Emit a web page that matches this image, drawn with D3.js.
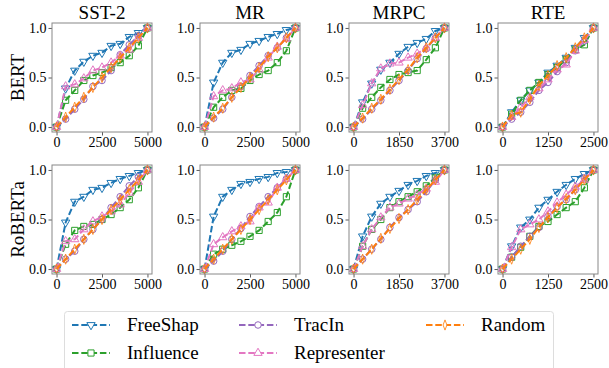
<!DOCTYPE html>
<html>
<head>
<meta charset="utf-8">
<script src="https://cdn.jsdelivr.net/npm/d3@7"></script>
<style>
  body { margin: 0; background: #fff; }
</style>
</head>
<body>
<div id="chart"></div>
<script>
// panel order: SST-2, MR, MRPC, RTE (BERT) then same for RoBERTa
const datasets = ["SST-2", "MR", "MRPC", "RTE"];
const models = ["BERT", "RoBERTa"];
const xMax = [5000, 5000, 3700, 2500];
const xTicks = [[0, 2500, 5000], [0, 2500, 5000], [0, 1850, 3700], [0, 1250, 2500]];
const yTicks = [0, 0.5, 1.0];
const methods = ["FreeShap", "Influence", "TracIn", "Representer", "Random"];

const freeShap = [
  [0, 0.39, 0.57, 0.66, 0.72, 0.75, 0.82, 0.84, 0.91, 0.95, 1.0],
  [0, 0.45, 0.65, 0.75, 0.78, 0.84, 0.87, 0.91, 0.94, 0.98, 1.0],
  [0, 0.25, 0.44, 0.58, 0.65, 0.74, 0.81, 0.85, 0.89, 0.97, 1.0],
  [0, 0.15, 0.27, 0.37, 0.45, 0.55, 0.62, 0.70, 0.80, 0.90, 1.0],
  [0, 0.47, 0.68, 0.73, 0.80, 0.82, 0.87, 0.91, 0.94, 0.97, 1.0],
  [0, 0.53, 0.73, 0.80, 0.86, 0.88, 0.91, 0.93, 0.97, 0.98, 1.0],
  [0, 0.33, 0.53, 0.66, 0.73, 0.79, 0.85, 0.89, 0.94, 0.97, 1.0],
  [0, 0.23, 0.42, 0.50, 0.62, 0.70, 0.78, 0.85, 0.91, 0.96, 1.0]
];
const influence = [
  [0, 0.27, 0.37, 0.47, 0.52, 0.55, 0.60, 0.65, 0.72, 0.82, 1.0],
  [0, 0.20, 0.30, 0.37, 0.39, 0.47, 0.53, 0.57, 0.65, 0.77, 1.0],
  [0, 0.19, 0.30, 0.40, 0.48, 0.53, 0.55, 0.57, 0.68, 0.80, 1.0],
  [0, 0.13, 0.27, 0.37, 0.45, 0.53, 0.60, 0.68, 0.78, 0.83, 1.0],
  [0, 0.25, 0.39, 0.43, 0.45, 0.50, 0.55, 0.62, 0.70, 0.82, 1.0],
  [0, 0.15, 0.20, 0.24, 0.28, 0.33, 0.39, 0.48, 0.57, 0.73, 1.0],
  [0, 0.23, 0.40, 0.50, 0.62, 0.68, 0.73, 0.78, 0.84, 0.92, 1.0],
  [0, 0.12, 0.22, 0.33, 0.43, 0.48, 0.55, 0.62, 0.68, 0.82, 1.0]
];
const tracIn = [
  [0, 0.08, 0.18, 0.28, 0.41, 0.47, 0.57, 0.73, 0.83, 0.92, 1.0],
  [0, 0.09, 0.18, 0.30, 0.41, 0.52, 0.62, 0.72, 0.80, 0.90, 1.0],
  [0, 0.08, 0.18, 0.27, 0.37, 0.47, 0.57, 0.69, 0.79, 0.90, 1.0],
  [0, 0.08, 0.15, 0.25, 0.37, 0.45, 0.56, 0.65, 0.77, 0.87, 1.0],
  [0, 0.10, 0.18, 0.30, 0.40, 0.50, 0.62, 0.73, 0.84, 0.93, 1.0],
  [0, 0.08, 0.18, 0.30, 0.41, 0.53, 0.63, 0.73, 0.82, 0.91, 1.0],
  [0, 0.10, 0.20, 0.30, 0.42, 0.52, 0.60, 0.68, 0.78, 0.90, 1.0],
  [0, 0.12, 0.23, 0.33, 0.42, 0.53, 0.63, 0.70, 0.80, 0.92, 1.0]
];
const representer = [
  [0, 0.41, 0.43, 0.49, 0.57, 0.60, 0.65, 0.72, 0.78, 0.90, 1.0],
  [0, 0.31, 0.37, 0.39, 0.45, 0.48, 0.58, 0.70, 0.81, 0.89, 1.0],
  [0, 0.22, 0.44, 0.59, 0.64, 0.65, 0.70, 0.74, 0.80, 0.90, 1.0],
  [0, 0.10, 0.20, 0.30, 0.39, 0.48, 0.58, 0.63, 0.77, 0.88, 1.0],
  [0, 0.28, 0.30, 0.40, 0.48, 0.53, 0.58, 0.65, 0.77, 0.88, 1.0],
  [0, 0.25, 0.32, 0.38, 0.43, 0.48, 0.62, 0.67, 0.82, 0.91, 1.0],
  [0, 0.23, 0.40, 0.52, 0.62, 0.66, 0.71, 0.75, 0.81, 0.88, 1.0],
  [0, 0.22, 0.40, 0.45, 0.50, 0.58, 0.67, 0.75, 0.83, 0.90, 1.0]
];
const random = [
  [0, 0.10, 0.20, 0.30, 0.40, 0.50, 0.60, 0.70, 0.80, 0.90, 1.0],
  [0, 0.10, 0.19, 0.30, 0.40, 0.50, 0.60, 0.71, 0.80, 0.90, 1.0],
  [0, 0.09, 0.19, 0.28, 0.38, 0.48, 0.58, 0.70, 0.80, 0.90, 1.0],
  [0, 0.12, 0.15, 0.28, 0.42, 0.52, 0.62, 0.70, 0.80, 0.90, 1.0],
  [0, 0.10, 0.20, 0.30, 0.40, 0.50, 0.60, 0.70, 0.80, 0.90, 1.0],
  [0, 0.10, 0.20, 0.30, 0.40, 0.50, 0.60, 0.70, 0.80, 0.90, 1.0],
  [0, 0.10, 0.20, 0.31, 0.41, 0.51, 0.60, 0.70, 0.80, 0.90, 1.0],
  [0, 0.10, 0.20, 0.30, 0.42, 0.52, 0.62, 0.71, 0.80, 0.90, 1.0]
];
const seriesValues = [freeShap, influence, tracIn, representer, random];

const colors = ["#1f77b4", "#2ca02c", "#9467bd", "#e377c2", "#ff7f0e"];
const serif = "'Liberation Serif', 'Times New Roman', serif";

// marker shapes: down-triangle, square, circle, up-triangle, thin diamond
function markerPath(i) {
  if (i == 1) return d3.symbol(d3.symbolSquare, 38)();
  if (i == 2) return d3.symbol(d3.symbolCircle, 34)();
  if (i == 4) return d3.symbol(d3.symbolDiamond, 30)();
  return d3.symbol(d3.symbolTriangle, 30)();
}
function markerTransform(i) {
  if (i == 0) return "rotate(180)";
  if (i == 4) return "scale(0.65,1)";
  return "";
}

const W = 609, H = 368;
const svg = d3.select("#chart").append("svg")
  .attr("width", W).attr("height", H);

const lefts = [52, 200, 349, 498];
const tops = [23, 165];
const pw = 100, ph = 109;

for (let r = 0; r < 2; r++) {
  for (let c = 0; c < 4; c++) {
    const p = r * 4 + c;
    const x0 = lefts[c], y0 = tops[r];
    const xScale = d3.scaleLinear()
      .domain([-0.05 * xMax[c], 1.05 * xMax[c]])
      .range([x0, x0 + pw]);
    const yScale = d3.scaleLinear()
      .domain([-0.05, 1.05])
      .range([y0 + ph, y0]);

    const g = svg.append("g");

    const xAxis = d3.axisBottom(xScale).tickValues(xTicks[c]).tickSize(3.5).tickPadding(2).tickFormat(d3.format("d"));
    const yAxis = d3.axisLeft(yScale).tickValues(yTicks).tickSize(3.5).tickPadding(2).tickFormat(d3.format(".1f"));

    const gx = g.append("g")
      .attr("transform", `translate(0,${y0 + ph})`)
      .call(xAxis);
    const gy = g.append("g")
      .attr("transform", `translate(${x0},0)`)
      .call(yAxis);
    [gx, gy].forEach(a => {
      a.attr("font-family", null).attr("font-size", null);
      a.select(".domain").remove();
      a.selectAll("line").attr("stroke", "#333").attr("stroke-width", 0.8);
      a.selectAll("text")
        .style("font-family", serif)
        .style("font-size", "14px")
        .attr("fill", "#000");
    });

    const plot = g.append("g");
    const xs = d3.range(11).map(k => k * xMax[c] / 10);

    seriesValues.forEach((vals, m) => {
      const pts = vals[p].map((v, k) => [xs[k], v]);
      const line = d3.line()
        .x(d => xScale(d[0]))
        .y(d => yScale(d[1]));
      plot.append("path")
        .datum(pts)
        .attr("d", line)
        .attr("fill", "none")
        .attr("stroke", colors[m])
        .attr("stroke-width", 2)
        .attr("stroke-dasharray", "6.5,2.8");
      plot.selectAll(".mk" + m)
        .data(pts)
        .enter()
        .append("path")
        .attr("class", "mk" + m)
        .attr("d", markerPath(m))
        .attr("transform", d => `translate(${xScale(d[0])},${yScale(d[1])}) ${markerTransform(m)}`)
        .attr("fill", "none")
        .attr("stroke", colors[m])
        .attr("stroke-width", 1);
    });

    g.append("rect")
      .attr("x", x0).attr("y", y0)
      .attr("width", pw).attr("height", ph)
      .attr("fill", "none")
      .attr("stroke", "#888")
      .attr("stroke-width", 1);

    if (r == 0) {
      svg.append("text")
        .attr("x", x0 + pw / 2)
        .attr("y", 19)
        .attr("text-anchor", "middle")
        .style("font-family", serif)
        .style("font-size", "19px")
        .text(datasets[c]);
    }
  }
  svg.append("text")
    .attr("transform", `translate(24,${tops[r] + ph / 2}) rotate(-90)`)
    .attr("text-anchor", "middle")
    .style("font-family", serif)
    .style("font-size", "19px")
    .text(models[r]);
}

// legend
const legend = svg.append("g");
legend.append("rect")
  .attr("x", 64.5).attr("y", 311.5)
  .attr("width", 489).attr("height", 62)
  .attr("rx", 3)
  .attr("fill", "#fff")
  .attr("stroke", "#ddd");

const legendPos = [[72, 325], [72, 353], [239, 325], [239, 353], [426, 325]];
methods.forEach((name, m) => {
  const [lx, ly] = legendPos[m];
  const item = legend.append("g");
  item.append("line")
    .attr("x1", lx).attr("x2", lx + 38)
    .attr("y1", ly).attr("y2", ly)
    .attr("stroke", colors[m])
    .attr("stroke-width", 2)
    .attr("stroke-dasharray", "6.5,2.8");
  item.append("path")
    .attr("d", markerPath(m))
    .attr("transform", `translate(${lx + 19},${ly}) ${markerTransform(m)}`)
    .attr("fill", "#fff")
    .attr("stroke", colors[m])
    .attr("stroke-width", 1);
  item.append("text")
    .attr("x", lx + 55)
    .attr("y", ly + 6)
    .style("font-family", serif)
    .style("font-size", "19px")
    .text(name);
});
</script>
</body>
</html>
